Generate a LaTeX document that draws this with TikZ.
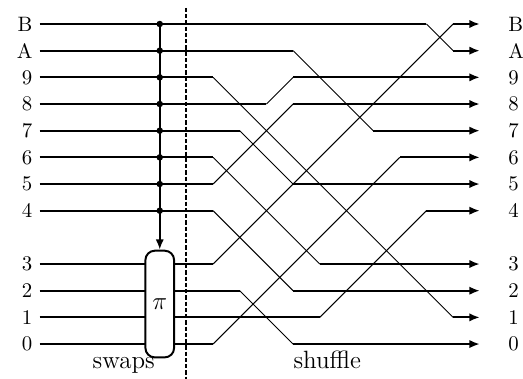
\documentclass[tikz,border=0pt]{standalone}
\usepackage{tikz}
\usepackage{xcolor}
\usetikzlibrary{arrows.meta}

\tikzset{
  wire/.style={line width=0.95pt},
  cross/.style={line width=0.45pt},
  outlbl/.style={anchor=west, inner xsep=13.5pt},
}

\begin{document}
\begin{tikzpicture}[x=0.45cm, y=0.45cm]
\useasboundingbox (-7.99,-1.31) rectangle (11.62,12.9);
% Labels on both sides
\foreach \n/\y in {B/12,A/11,9/10,8/9,7/8,6/7,5/6,4/5,3/3,2/2,1/1,0/0} {
  \node[left] (in\n) at (-6.5,\y) {\n};
  \node[outlbl] (out\n) at (10,\y) {\n};
}
% Wires: input/row/bend/output/row
\foreach \a/\ya/\b/\z/\yz in {B/12/8/A/11, A/11/3/7/8, 9/10/0/1/1, 8/9/2/9/10,
    7/8/1/5/6, 6/7/0/3/3, 5/6/0/8/9, 4/5/0/2/2, 3/3/0/B/12, 2/2/1/0/0,
    1/1/4/4/5, 0/0/0/6/7} {
  \pgfmathsetmacro\d{abs(\ya-\yz)}
  \draw[wire] (in\a.east) -- (\b,\ya);
  \draw[cross] (\b,\ya) -- (\b+\d,\yz);
  \draw[wire,-{Latex[length=5pt,width=4pt]}] (\b+\d,\yz) -- (out\z.west);
}
% Swap box and its control bus
\node[draw, wire, fill=white, rounded corners=4.5pt, minimum width=0.45cm,
  minimum height=1.8cm, font=\large] (perm) at (-2,1.5) {$\pi$};
\foreach \n/\y in {B/12,A/11,9/10,8/9,7/8,6/7,5/6,4/5}
  \node[circle, fill, inner sep=1.1pt] (tap\n) at (-2,\y) {};
\draw[wire,-{Latex[length=5pt,width=4pt]}] (tapB.center) -- (perm.north);
% Divider between the two stages
\coordinate (divtop) at (-1,12.6);
\coordinate (divbot) at (-1,-1.31);
\draw[wire, dash pattern=on 2pt off 1pt] (divtop) -- (divbot);
\node[anchor=base, font=\large] (swaps) at (-3.35,-0.9) {swaps};
\node[anchor=base, font=\large] (shuffle) at (4.28,-0.9) {shuffle};
\end{tikzpicture}
\end{document}
